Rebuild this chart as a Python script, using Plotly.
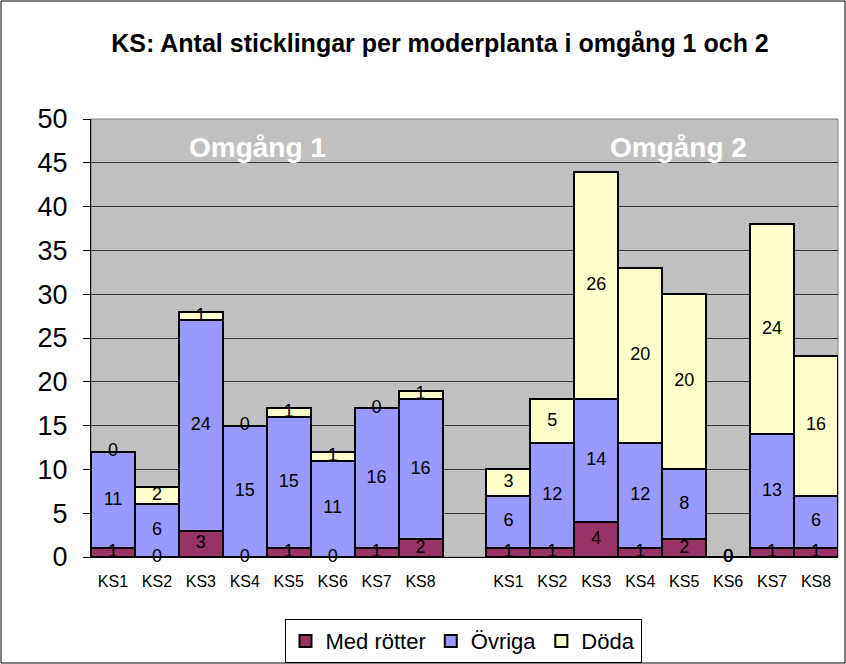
import plotly.graph_objs as go

# =============================================================================
# Data
# =============================================================================

LABELS = ["KS1", "KS2", "KS3", "KS4", "KS5", "KS6", "KS7", "KS8"]

# x positions: omgång 1 at 0..7, an empty slot, omgång 2 at 9..16
POS = list(range(0, 8)) + list(range(9, 17))
TICKTEXT = LABELS + LABELS

MED_ROTTER = [1, 0, 3, 0, 1, 0, 1, 2,
              1, 1, 4, 1, 2, 0, 1, 1]
OVRIGA = [11, 6, 24, 15, 15, 11, 16, 16,
          6, 12, 14, 12, 8, 0, 13, 6]
DODA = [0, 2, 1, 0, 1, 1, 0, 1,
        3, 5, 26, 20, 20, 0, 24, 16]

SERIES = [("Med rötter", MED_ROTTER, "#993366"),
          ("Övriga", OVRIGA, "#9999FF"),
          ("Döda", DODA, "#FFFFCC")]

FONT = "Liberation Sans, Arial, sans-serif"

# =============================================================================
# Figure
# =============================================================================

fig = go.Figure()

base = [0] * len(POS)
for name, vals, color in SERIES:
    fig.add_trace(go.Bar(
        name=name, x=POS, y=vals, marker_color=color,
        marker_line=dict(color="black", width=2),
        width=1,
    ))
    # value labels centered on each segment (also for zero segments)
    mids = [b + v / 2 for b, v in zip(base, vals)]
    fig.add_trace(go.Scatter(
        x=POS, y=mids, mode="text", text=[str(v) for v in vals],
        textfont=dict(family=FONT, size=18, color="black"),
        showlegend=False, hoverinfo="skip", cliponaxis=False,
    ))
    base = [b + v for b, v in zip(base, vals)]

fig.update_layout(
    barmode="stack",
    bargap=0,
    width=846, height=664,
    autosize=False,
    paper_bgcolor="white",
    plot_bgcolor="#C0C0C0",
    margin=dict(l=91, r=8, t=119, b=107, autoexpand=False),
    font=dict(family=FONT, color="black"),
    title=dict(text="<b>KS: Antal sticklingar per moderplanta i omgång 1 och 2</b>",
               x=440 / 846, xanchor="center", y=1 - 43 / 664, yanchor="middle",
               font=dict(size=25, family=FONT)),
    xaxis=dict(range=[-0.5, 16.5], tickvals=POS, ticktext=TICKTEXT,
               tickfont=dict(size=16), showgrid=False, zeroline=False,
               showline=True, linecolor="black", linewidth=1, ticks="",
               tickangle=0, ticklabelstandoff=10),
    yaxis=dict(range=[0, 50], dtick=5, tickfont=dict(size=27),
               showgrid=True, gridcolor="#333333", gridwidth=1,
               zeroline=False, showline=True, linecolor="black", linewidth=1,
               ticks="outside", ticklen=7, tickcolor="black",
               ticklabelstandoff=10),
    legend=dict(orientation="h", x=0.498, xanchor="center",
                y=-0.192, yanchor="middle",
                bordercolor="black", borderwidth=1,
                font=dict(size=22), traceorder="normal"),
    showlegend=True,
)

# group titles
for txt, xc in [("Omgång 1", 3.28), ("Omgång 2", 12.86)]:
    fig.add_annotation(x=xc, y=46.8, xref="x", yref="y", text=f"<b>{txt}</b>",
                       showarrow=False, font=dict(size=28, color="white"))

# plot area frame (gray top/right edges)
fig.add_shape(type="rect", xref="paper", yref="paper",
              x0=0, x1=1, y0=0, y1=1,
              line=dict(color="#808080", width=1), layer="below")

# outer chart border
fig.add_shape(type="rect", xref="paper", yref="paper",
              x0=-90 / 747, x1=754 / 747, y0=-106 / 438, y1=556 / 438,
              line=dict(color="black", width=1), layer="above")

fig.write_html("out.html", config=dict(displayModeBar=False),
               post_script="document.body.style.margin='0';")
